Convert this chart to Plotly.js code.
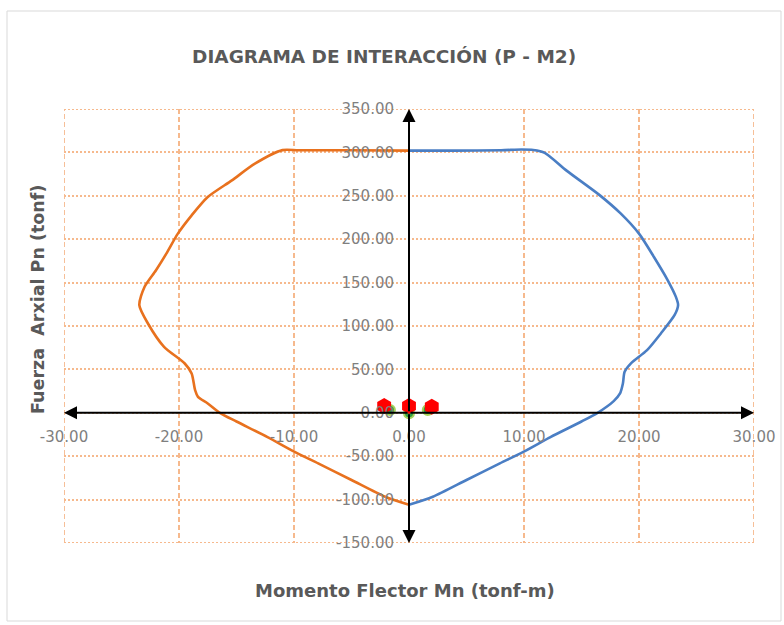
<!DOCTYPE html>
<html>
<head>
<meta charset="utf-8">
<script src="https://cdn.plot.ly/plotly-3.0.1.min.js"></script>
<style>html,body{margin:0;padding:0;background:#fff;}#chart{width:784px;height:625px;}</style>
</head>
<body>
<div id="chart"></div>
<script>
// Positive moment branch (blue)
const blueM = [0, 4, 8, 9.8, 10.8, 11.8, 13.7, 16.6, 18.4, 20.0, 21.3, 22.5, 23.2, 23.4, 23.1, 21.9, 20.7, 19.3, 18.75, 18.6, 18.35, 17.8, 16.4, 15.0, 12.3, 9.94, 7.9, 5.0, 2.07, 0];
const blueP = [302, 302, 302.5, 303.3, 302.8, 299.5, 279, 250.5, 229.7, 206.4, 179.5, 152.7, 133.8, 124.2, 112.7, 91.4, 72.2, 56.9, 47.2, 33.8, 22.3, 13.5, 0, -10, -28, -45, -58.3, -77.4, -96.7, -106];
// Negative moment branch (orange)
const orangeM = [0, -5, -9.6, -11.0, -13.4, -15.4, -17.5, -18.9, -20.1, -21.1, -22.0, -23.0, -23.45, -22.7, -21.3, -19.5, -18.9, -18.6, -18.35, -17.5, -16.45, -15.0, -12.3, -9.94, -7.9, -5.0, -2.07, 0];
const orangeP = [302, 302.5, 302.4, 302.6, 287, 267.8, 248.6, 227.5, 206.4, 183.4, 164.2, 145, 124, 102.9, 76, 56.8, 45.3, 26.1, 18.4, 10.8, 0, -10, -28, -45, -58.3, -77.4, -96.7, -106];
// Demand points
const greenM = [-1.66, 0, 1.63];
const greenP = [3.1, -0.5, 3.1];
const redM = [-2.16, 0, 1.98];
const redP = [7.7, 7.7, 7.0];

const xTicks = [-30, -20, -10, 0, 10, 20, 30];
const yTicks = [-150, -100, -50, 0, 50, 100, 150, 200, 250, 300, 350];

const tickFont = {family: 'DejaVu Sans, sans-serif', size: 15, color: '#7f7f7f'};
const titleFont = {family: 'DejaVu Sans, sans-serif', size: 18.5, color: '#595959', weight: 'bold'};
const axisTitleFont = {family: 'DejaVu Sans, sans-serif', size: 18, color: '#595959', weight: 'bold'};
const yTitleFont = {family: 'DejaVu Sans, sans-serif', size: 17.5, color: '#595959', weight: 'bold'};
const gridColor = '#f6b98d';
const vDash = '5px,3px';
const hDash = '2px,2px';

const traces = [
  {x: blueM, y: blueP, mode: 'lines', line: {color: '#4a7ec4', width: 2.6, shape: 'spline', smoothing: 0.7}, showlegend: false, hoverinfo: 'skip'},
  {x: orangeM, y: orangeP, mode: 'lines', line: {color: '#e8711e', width: 2.6, shape: 'spline', smoothing: 0.7}, showlegend: false, hoverinfo: 'skip'},
  {x: greenM, y: greenP, mode: 'markers', marker: {symbol: 'circle', size: 10, color: '#2f9e44', line: {color: '#a6d15a', width: 2}}, showlegend: false},
  {x: redM, y: redP, mode: 'markers', marker: {symbol: 'hexagon', size: 16, color: '#ff0000', line: {width: 0}}, showlegend: false}
];

function arrow(x, y, ax, ay) {
  return {x: x, y: y, ax: ax, ay: ay, xref: 'x', yref: 'y', axref: 'x', ayref: 'y', text: '', showarrow: true,
          arrowhead: 2, arrowsize: 1.3, arrowwidth: 2, arrowcolor: '#000000'};
}
function vline(v) {
  return {type: 'line', xref: 'x', yref: 'y', x0: v, x1: v, y0: -150, y1: 350, line: {color: gridColor, width: 1.8, dash: vDash}, layer: 'below'};
}
function hline(v) {
  return {type: 'line', xref: 'x', yref: 'y', x0: -30, x1: 30, y0: v, y1: v, line: {color: gridColor, width: 2, dash: hDash}, layer: 'below'};
}

const layout = {
  width: 784, height: 625,
  margin: {l: 64, r: 30, t: 109, b: 82},
  paper_bgcolor: '#ffffff', plot_bgcolor: '#ffffff',
  title: {text: 'DIAGRAMA DE INTERACCIÓN (P - M2)', font: titleFont, x: 0.49, xref: 'container', y: 0.909, yref: 'container', xanchor: 'center', yanchor: 'middle'},
  xaxis: {
    range: [-30, 30], tickvals: xTicks, ticktext: xTicks.map(v => v.toFixed(2)), tickfont: tickFont,
    showgrid: true, gridcolor: gridColor, griddash: vDash, gridwidth: 1.8,
    zeroline: false, showline: false, ticks: '',
    anchor: 'free', position: 0.3, ticklabelstandoff: 13, fixedrange: true
  },
  yaxis: {
    range: [-150, 350], tickvals: yTicks, ticktext: yTicks.map(v => v.toFixed(2)), tickfont: tickFont,
    showgrid: true, gridcolor: gridColor, griddash: hDash, gridwidth: 2,
    zeroline: false, showline: false, ticks: '',
    anchor: 'free', position: 0.5, side: 'left', ticklabelstandoff: 15, fixedrange: true
  },
  annotations: [
    arrow(30, 0, 0, 0), arrow(-30, 0, 0, 0), arrow(0, 350, 0, 0), arrow(0, -150, 0, 0),
    {text: 'Momento Flector Mn (tonf-m)', xref: 'paper', yref: 'paper', x: (405 - 64) / 690, y: (543 - 590) / 434,
     xanchor: 'center', yanchor: 'middle', showarrow: false, font: axisTitleFont},
    {text: 'Fuerza\u00a0 Arxial Pn (tonf)', xref: 'paper', yref: 'paper', x: (38 - 64) / 690, y: (543 - 300) / 434,
     xanchor: 'center', yanchor: 'middle', showarrow: false, textangle: -90, font: yTitleFont}
  ],
  shapes: [
    {type: 'rect', xref: 'paper', yref: 'paper', x0: (7 - 64) / 690, x1: (781 - 64) / 690, y0: (543 - 621) / 434, y1: (543 - 11) / 434,
     line: {color: '#d9d9d9', width: 1}, fillcolor: 'rgba(0,0,0,0)', layer: 'below'},
    vline(-30), vline(30), hline(350), hline(-150)
  ]
};

Plotly.newPlot('chart', traces, layout, {displayModeBar: false, staticPlot: true});
</script>
</body>
</html>
